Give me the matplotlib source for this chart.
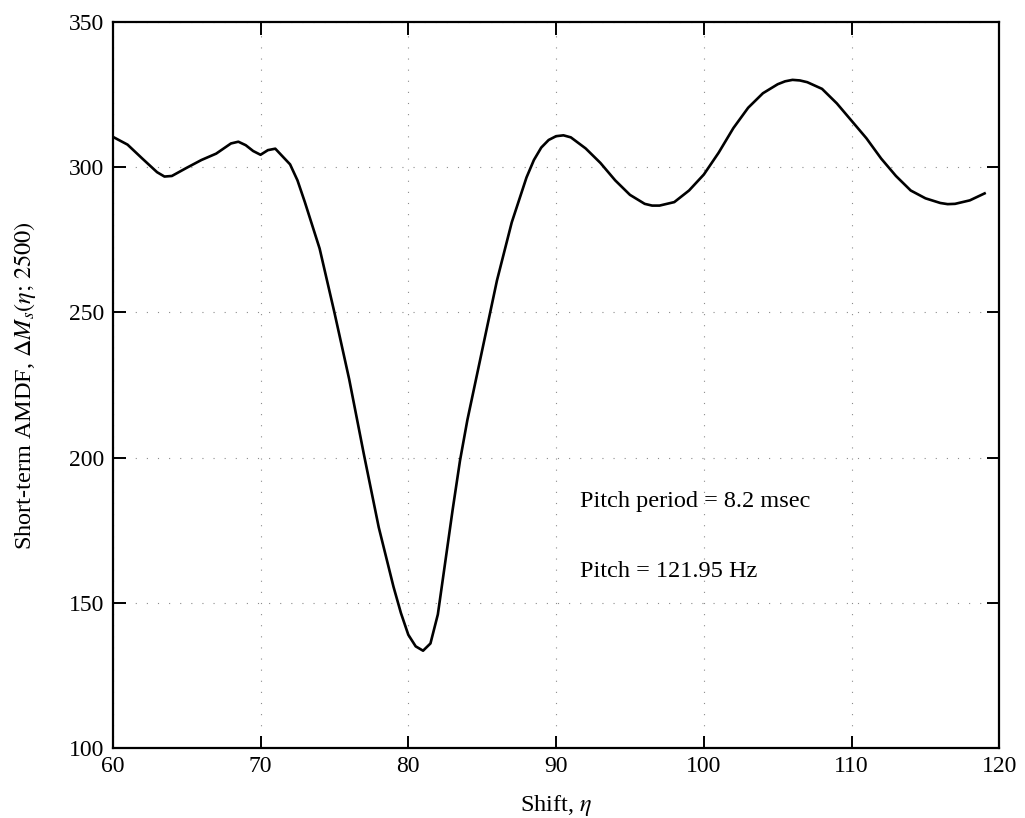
import matplotlib
matplotlib.use("Agg")
import matplotlib.pyplot as plt

shift = [60, 61, 62, 63, 63.5, 64, 65, 66, 67, 68, 68.5, 69, 69.5, 70, 70.5, 71, 72, 72.5,
         73, 74, 75, 76, 77, 78, 79, 79.5, 80, 80.5, 81, 81.5, 82, 82.5, 83, 83.5, 84, 85,
         86, 87, 88, 88.5, 89, 89.5, 90, 90.5, 91, 92, 93, 94, 95, 96, 96.5, 97, 98, 99,
         100, 101, 102, 103, 104, 105, 105.5, 106, 106.5, 107, 108, 109, 110, 111, 112,
         113, 114, 115, 116, 116.5, 117, 118, 119]
amdf = [310.5, 307.8, 303.0, 298.3, 296.8, 297.0, 299.8, 302.5, 304.7, 308.2, 308.8, 307.6,
        305.6, 304.3, 305.9, 306.4, 301.0, 295.5, 288.0, 272.0, 250.0, 227.0, 201.0, 176.0,
        155.5, 146.5, 139.0, 135.0, 133.5, 136.0, 146.0, 164.0, 182.0, 199.0, 213.0, 237.0,
        261.0, 281.0, 296.5, 302.5, 306.8, 309.4, 310.7, 311.0, 310.3, 306.5, 301.5, 295.5,
        290.5, 287.4, 286.8, 286.8, 288.0, 292.0, 297.5, 305.0, 313.5, 320.5, 325.5, 328.6,
        329.6, 330.1, 329.9, 329.3, 327.0, 322.0, 316.0, 310.0, 303.0, 297.0, 292.0, 289.3,
        287.7, 287.3, 287.4, 288.6, 291.0]

xticks = [60, 70, 80, 90, 100, 110, 120]
yticks = [100, 150, 200, 250, 300, 350]
notes = ["Pitch period = 8.2 msec", "Pitch = 121.95 Hz"]

plt.rcParams["font.family"] = ["Liberation Serif", "DejaVu Serif"]
plt.rcParams["mathtext.fontset"] = "stix"

fig = plt.figure(figsize=(10.25, 8.18), dpi=100)
ax = fig.add_axes([0.110, 0.0856, 0.865, 0.8874])

ax.plot(shift, amdf, color="black", lw=1.9, solid_joinstyle="round")

ax.set_xlim(60, 120)
ax.set_ylim(100, 350)
ax.set_xticks(xticks)
ax.set_yticks(yticks)
ax.tick_params(direction="in", length=9, width=1.4, top=True, right=True,
               labelsize=17, pad=6)
for s in ax.spines.values():
    s.set_linewidth(1.6)

ax.grid(True, color="0.55", linestyle=(0, (1, 9)), linewidth=0.8)

ax.set_xlabel(r"Shift, $\eta$", fontsize=17.5, labelpad=11)
ax.set_ylabel(r"Short-term AMDF, $\Delta M_s(\eta;\,2500)$", fontsize=17.5, labelpad=22)

ax.text(91.6, 184.8, notes[0], fontsize=17.5, va="center", ha="left")
ax.text(91.6, 160.7, notes[1], fontsize=17.5, va="center", ha="left")

fig.savefig("out.png", dpi=100)
